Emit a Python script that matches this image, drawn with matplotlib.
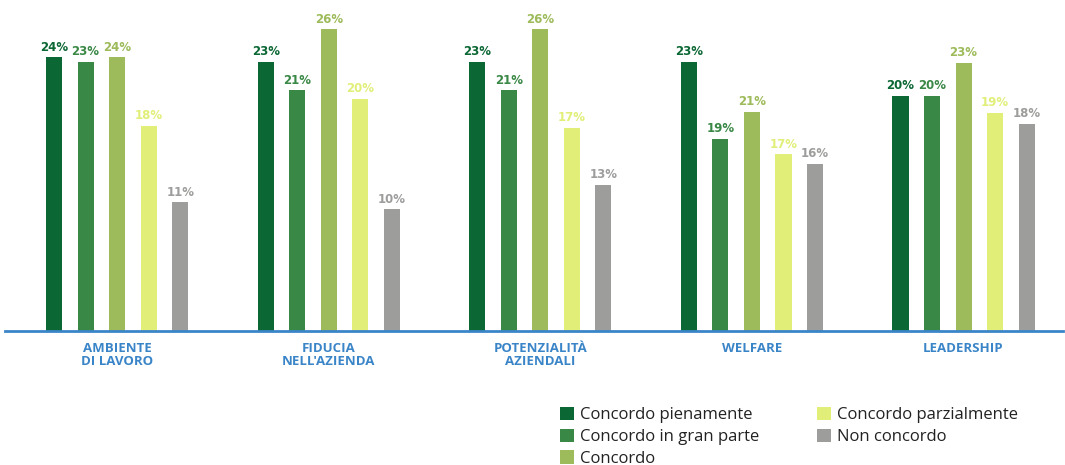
import numpy as np
import matplotlib
matplotlib.use('Agg')
import matplotlib.pyplot as plt
from matplotlib.patches import Patch

plt.rcParams['font.family'] = ['Open Sans', 'DejaVu Sans']

categories = ['AMBIENTE\nDI LAVORO', "FIDUCIA\nNELL'AZIENDA", 'POTENZIALITÀ\nAZIENDALI',
              'WELFARE', 'LEADERSHIP']
series = ['Concordo pienamente', 'Concordo in gran parte', 'Concordo',
          'Concordo parzialmente', 'Non concordo']

# bar heights as drawn in the picture (%)
pienamente = [23.6, 23.2, 23.2, 23.2, 20.25]
gran_parte = [23.2, 20.75, 20.75, 16.55, 20.25]
concordo = [23.6, 26.0, 26.0, 18.9, 23.1]
parzialmente = [17.7, 20.0, 17.5, 15.25, 18.8]
non_concordo = [11.1, 10.5, 12.6, 14.4, 17.85]

# printed labels
lab_pienamente = [24, 23, 23, 23, 20]
lab_gran_parte = [23, 21, 21, 19, 20]
lab_concordo = [24, 26, 26, 21, 23]
lab_parzialmente = [18, 20, 17, 17, 19]
lab_non_concordo = [11, 10, 13, 16, 18]

colors = ['#0b6734', '#3a8846', '#9dbb5a', '#e1ef79', '#9d9d9c']
values = [pienamente, gran_parte, concordo, parzialmente, non_concordo]
labels = [lab_pienamente, lab_gran_parte, lab_concordo, lab_parzialmente, lab_non_concordo]

fig = plt.figure(figsize=(10.65, 4.65), dpi=100)
W, H = 1065, 465
ax = fig.add_axes([5 / W, 134 / H, (1063 - 5) / W, (331 - 6) / H])

x = np.arange(len(categories))
step = 0.149
width = 0.076
for i in range(len(series)):
    xs = x + (i - 2) * step
    ax.bar(xs, values[i], width, color=colors[i])
    for xx, v, l in zip(xs, values[i], labels[i]):
        ax.text(xx, v + 0.3, f'{l}%', ha='center', va='bottom', fontsize=8.5,
                fontweight='bold', color=colors[i], family='DejaVu Sans')

ax.set_xlim(-0.53, 4.47)
ax.set_ylim(0, 28)
for s in ['top', 'right', 'left']:
    ax.spines[s].set_visible(False)
ax.spines['bottom'].set_color('#3a85c8')
ax.spines['bottom'].set_linewidth(2)
ax.set_yticks([])
ax.set_xticks(x)
ax.set_xticklabels(categories, fontsize=9.5, fontweight='bold', color='#3a85c8',
                   linespacing=1.0)
ax.tick_params(axis='x', length=0, pad=8)

handles = [Patch(facecolor=c, edgecolor='none') for c in colors]
fig.legend(handles, series, loc='upper left', bbox_to_anchor=(560 / W, 1 - 407 / H),
           ncol=2, frameon=False, fontsize=12, handlelength=0.85, handleheight=0.85,
           handletextpad=0.35, columnspacing=3.45, labelspacing=0.32,
           borderaxespad=0, borderpad=0, labelcolor='#222222')

fig.savefig('out.png', dpi=100)
